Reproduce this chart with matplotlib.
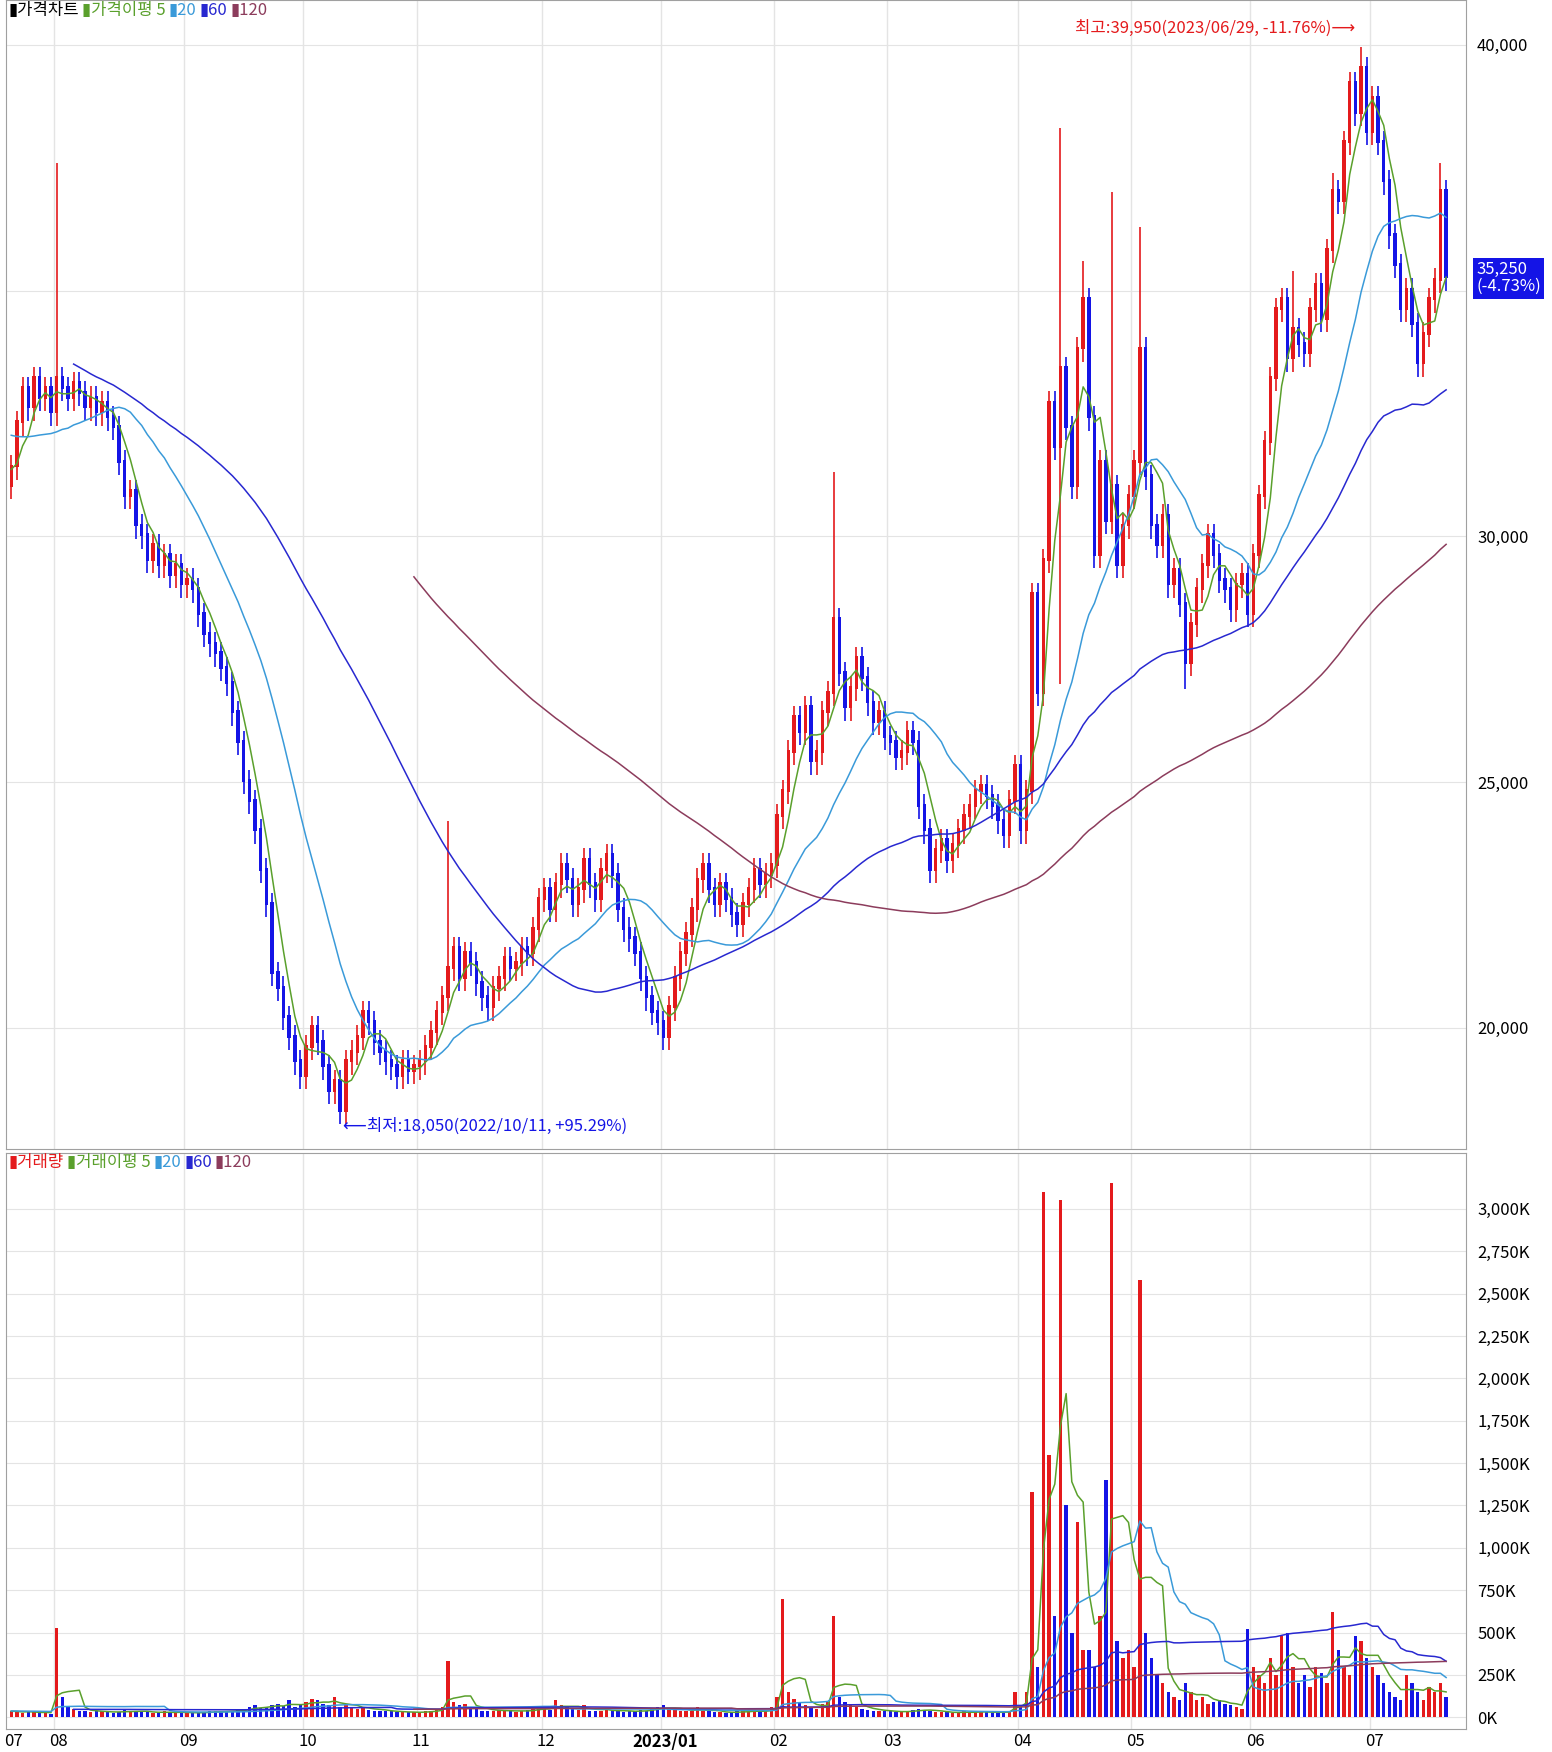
import numpy as np
import pandas as pd
import matplotlib
matplotlib.use("Agg")
import matplotlib.pyplot as plt

plt.rcParams['font.family'] = ['Noto Sans CJK KR', 'DejaVu Sans']

# closes in thousands of won, before the visible range (for the moving averages)
prior_close = [36.8, 36.5, 36.9, 36.2, 35.8, 36.0, 35.5, 35.9, 35.2, 35.6, 35.0, 34.8, 35.3, 34.6, 34.9, 34.2,
               34.5, 34.0, 34.4, 33.8, 34.1, 33.6, 33.9, 33.4, 33.7, 33.2, 33.5, 33.0, 33.3, 32.8, 33.1, 32.6,
               32.9, 32.4, 32.7, 32.2, 32.5, 32.0, 32.3, 31.8, 32.1, 31.6, 31.9, 31.4, 31.7, 31.2, 31.5, 31.0]
prior_vol = [40, 35, 45, 30, 50, 40, 35, 45, 30, 40, 35, 50, 45, 40, 30, 35, 40, 45, 35, 30, 40, 50, 45, 35,
             40, 30, 35, 45, 40, 35, 30, 40, 45, 35, 40, 30, 35, 40, 45, 30, 35, 40, 45, 50, 35, 40, 30, 35]

month_labels = ["07", "08", "09", "10", "11", "12", "2023/01", "02", "03", "04", "05", "06", "07"]
close_by_month = [
    [31.4, 32.3, 33.0, 32.6, 33.2, 32.8, 33.0, 32.5],
    [33.2, 33.0, 32.8, 33.1, 32.9, 32.6, 32.8, 32.5, 32.7, 32.4, 32.2, 31.5, 30.8, 30.9, 30.2, 30.0, 29.5, 29.8,
     29.4, 29.6, 29.2, 29.4, 29.0],
    [29.1, 28.9, 28.4, 28.0, 27.8, 27.6, 27.3, 27.0, 26.4, 25.8, 25.0, 24.6, 24.0, 23.2, 22.5, 21.1, 20.8, 20.2,
     19.8, 19.3, 19.0],
    [19.6, 20.0, 19.7, 19.2, 18.7, 18.9, 18.3, 19.3, 19.5, 19.8, 20.3, 20.1, 19.7, 19.5, 19.3, 19.2, 19.0, 19.3,
     19.1, 19.2],
    [19.3, 19.6, 19.9, 20.3, 20.6, 21.2, 21.6, 21.0, 21.5, 21.3, 20.9, 20.6, 20.4, 20.8, 21.0, 21.4, 21.2, 21.3,
     21.6, 21.5, 22.0, 22.6],
    [22.8, 22.4, 22.9, 23.3, 23.0, 22.5, 22.8, 23.4, 22.9, 22.6, 23.2, 23.5, 23.1, 22.4, 22.0, 21.8, 21.5, 21.0,
     20.6, 20.3, 20.1],
    [19.8, 20.4, 21.0, 21.5, 21.9, 22.4, 23.0, 23.3, 22.8, 22.5, 22.9, 22.6, 22.3, 22.1, 22.5, 22.8, 23.2, 22.9,
     23.1, 23.3],
    [24.3, 24.8, 25.6, 26.3, 26.0, 26.5, 25.4, 25.6, 26.4, 26.8, 28.3, 27.2, 26.5, 26.9, 27.5, 27.1, 26.6, 26.2,
     26.4, 25.9],
    [25.8, 25.5, 25.6, 26.0, 25.8, 24.5, 24.0, 23.2, 23.6, 23.8, 23.4, 23.7, 24.0, 24.3, 24.5, 24.8, 24.9, 24.7,
     24.5, 24.2, 23.9, 24.6, 25.3],
    [24.0, 24.8, 28.8, 26.8, 29.5, 32.7, 31.8, 33.4, 32.2, 31.0, 33.8, 34.8, 32.4, 29.6, 31.5, 30.3, 31.0, 29.4,
     30.2, 30.8],
    [31.5, 33.8, 31.2, 30.2, 29.8, 30.4, 29.0, 29.3, 28.6, 27.4, 28.2, 28.9, 29.4, 30.0, 29.6, 29.1, 28.9, 28.5,
     29.0, 29.2, 28.4],
    [29.6, 30.8, 31.9, 33.2, 34.6, 34.8, 33.6, 34.2, 33.9, 33.7, 34.6, 35.1, 34.4, 35.8, 37.0, 36.8, 38.0, 39.2,
     38.6, 39.5, 38.2],
    [38.9, 38.0, 37.2, 36.1, 35.5, 34.6, 35.0, 34.3, 33.5, 34.1, 34.8, 35.2, 37.0, 35.25],
]
vol_by_month = [
    [40, 30, 25, 35, 30, 25, 30, 20],
    [530, 120, 60, 50, 40, 35, 30, 40, 35, 30, 25, 30, 45, 40, 35, 30, 30, 25, 30, 35, 30, 25, 30],
    [25, 30, 25, 30, 35, 40, 35, 30, 40, 45, 50, 60, 70, 55, 60, 75, 80, 65, 100, 60, 70],
    [90, 110, 100, 80, 70, 120, 60, 70, 55, 50, 60, 45, 40, 40, 35, 35, 30, 30, 30, 30],
    [30, 35, 40, 45, 60, 330, 90, 70, 80, 60, 50, 40, 35, 40, 45, 40, 35, 30, 40, 45, 50, 60],
    [50, 45, 100, 70, 60, 50, 45, 70, 40, 35, 40, 50, 40, 35, 30, 35, 40, 45, 40, 50, 60],
    [70, 50, 45, 40, 35, 40, 60, 40, 35, 30, 30, 25, 30, 35, 40, 35, 40, 30, 35, 60],
    [120, 700, 150, 110, 90, 70, 60, 50, 80, 90, 600, 120, 90, 70, 60, 50, 45, 40, 40, 35],
    [35, 30, 30, 40, 45, 50, 45, 35, 30, 30, 30, 25, 30, 35, 30, 30, 35, 30, 25, 30, 30, 40, 150],
    [60, 150, 1330, 300, 3100, 1550, 600, 3050, 1250, 500, 1150, 400, 400, 300, 600, 1400, 3150, 450, 350, 400],
    [300, 2580, 500, 350, 250, 200, 150, 120, 100, 200, 150, 100, 120, 80, 90, 100, 80, 70, 60, 50, 520],
    [300, 250, 200, 350, 250, 480, 500, 300, 200, 250, 180, 300, 260, 200, 620, 400, 300, 250, 480, 450, 350],
    [300, 250, 200, 150, 120, 100, 250, 200, 150, 100, 180, 150, 200, 120],
]
# notable wick extremes (day index -> price, thousands)
spike_high = {8: 37.6, 77: 24.2, 145: 31.3, 185: 38.3, 189: 35.6, 194: 37.0, 199: 36.3, 226: 35.4,
              233: 37.4, 238: 39.95, 252: 37.6}
spike_low = {58: 18.05, 185: 27.0, 207: 26.9}

close = np.array(sum(close_by_month, [])) * 1000
vol = np.array(sum(vol_by_month, []), dtype=float)
n = len(close)
all_close = pd.Series(np.concatenate([np.array(prior_close) * 1000, close]))
all_vol = pd.Series(np.concatenate([prior_vol, vol]))
k = len(prior_close)
opens = all_close.shift(1).values[k:]
hi = np.maximum(opens, close) + 250
lo = np.minimum(opens, close) - 250
for i, v in spike_high.items():
    hi[i] = max(hi[i], v * 1000)
for i, v in spike_low.items():
    lo[i] = min(lo[i], v * 1000)
month_start = np.cumsum([0] + [len(m) for m in close_by_month[:-1]])

x = np.arange(n)
up = close >= opens
RED, BLUE = "#e41a1c", "#1414e6"
ma_cols = {5: "#5aa02c", 20: "#3a9ad9", 60: "#2828d0", 120: "#8c3c5c"}

fig = plt.figure(figsize=(15.52, 17.52), dpi=100)
W, H = 1389, 1568
ax1 = fig.add_axes([5 / W, 1 - 1028 / H, 1307 / W, 1028 / H])
ax2 = fig.add_axes([5 / W, 1 - 1547 / H, 1307 / W, (1547 - 1032) / H])

for a in (ax1, ax2):
    a.set_xlim(-1, n + 2.5)
    for ms in month_start[1:]:
        a.axvline(ms - 0.5, color="#e4e4e4", lw=1, zorder=0)
    a.yaxis.tick_right()
    a.tick_params(axis="y", length=0, labelsize=12, pad=8)
    a.tick_params(axis="x", length=0)
    for s in a.spines.values():
        s.set_color("#a0a0a0")
    a.set_xticks([])

# candles
cols = np.where(up, RED, BLUE)
ax1.vlines(x, lo, hi, colors=cols, lw=1.2, zorder=3)
ax1.bar(x, np.abs(close - opens) + 60, bottom=np.minimum(opens, close), width=0.6, color=cols, zorder=4)
for p, c in ma_cols.items():
    ma = all_close.rolling(p).mean().values[k:]
    ax1.plot(x, ma, color=c, lw=1.1, zorder=5)
ax1.set_ylim(17545, 40909)
ax1.set_yticks([20000, 25000, 30000, 35000, 40000])
ax1.set_yticklabels(["20,000", "25,000", "30,000", "", "40,000"])
ax1.yaxis.grid(True, color="#e4e4e4")

imax = int(np.argmax(hi)); imin = int(np.argmin(lo))
ax1.text(imax - 1, hi[imax] + 200, "최고:39,950(2023/06/29, -11.76%)⟶", color=RED, ha="right",
         va="bottom", fontsize=12)
ax1.text(imin + 0.5, lo[imin] - 50, "⟵최저:18,050(2022/10/11, +95.29%)", color=BLUE, ha="left",
         va="center", fontsize=12)
ax1.text(1.007, (35250 - 17545) / (40909 - 17545), "35,250\n(-4.73%)", transform=ax1.transAxes,
         color="white", fontsize=12, va="center", ha="left", linespacing=1.0,
         bbox=dict(boxstyle="square,pad=0.2", fc="#1414e6", ec="none"))

# volume
vcols = np.where(up, RED, BLUE)
ax2.bar(x, vol, width=0.6, color=vcols, zorder=3)
for p, c in ma_cols.items():
    ma = all_vol.rolling(p).mean().values[k:]
    ax2.plot(x, ma, color=c, lw=1.1, zorder=5)
ax2.set_ylim(-66, 3329)
vt = np.arange(0, 3001, 250)
ax2.set_yticks(vt)
ax2.set_yticklabels([f"{v:,}K" for v in vt])
ax2.yaxis.grid(True, color="#e4e4e4")
for ms, lab in zip(month_start, month_labels):
    ax2.text(ms + 0.3, -95, lab, ha="center", va="top", fontsize=12,
             fontweight="bold" if "/" in lab else "normal")


def legend(ax, parts):
    xx = 0.002
    for txt, col in parts:
        t = ax.text(xx, 0.998, txt, transform=ax.transAxes, color=col, fontsize=12, va="top", ha="left")
        fig.canvas.draw()
        bb = t.get_window_extent()
        xx += (bb.width + 3) / ax.get_window_extent().width


legend(ax1, [("▮가격차트", "black"), ("▮가격이평 5", "#5aa02c"), ("▮20", "#3a9ad9"),
             ("▮60", "#2828d0"), ("▮120", "#8c3c5c")])
legend(ax2, [("▮거래량", RED), ("▮거래이평 5", "#5aa02c"), ("▮20", "#3a9ad9"),
             ("▮60", "#2828d0"), ("▮120", "#8c3c5c")])

fig.savefig("out.png", dpi=100)
